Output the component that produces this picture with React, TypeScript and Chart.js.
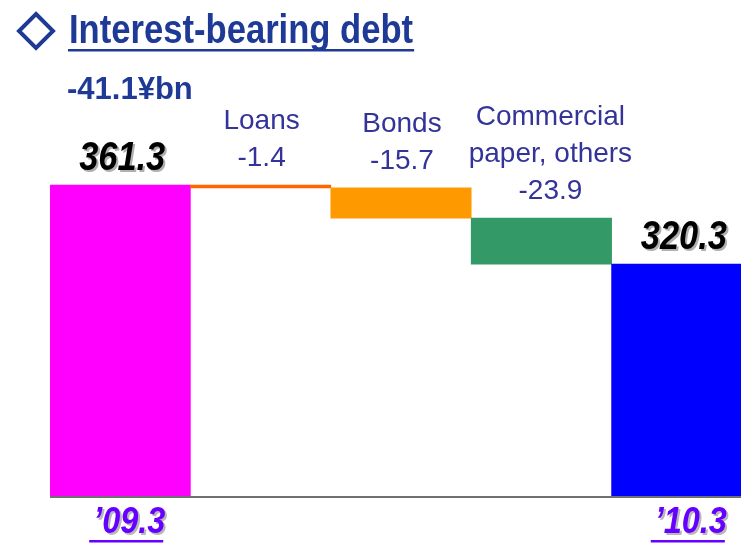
import React, { useEffect, useRef } from "react";
import { Chart, registerables } from "chart.js";

Chart.register(...registerables);

const titleText = "Interest-bearing debt";
const periodLabels = ["\u201909.3", "\u201910.3"];
const changeNames = [["Loans"], ["Bonds"], ["Commercial", "paper, others"]];
const startValue = 361.3;
const changeValues = [-1.4, -15.7, -23.9];
const endValue = 320.3;
const totalChangeLabel = "-41.1¥bn";
const barColors = ["#FF00FF", "#FF6600", "#FF9900", "#339966", "#0000FF"];
const axisMin = 200;
const axisMax = 457.4;

const SANS = '"Liberation Sans", Arial, sans-serif';

const CANVAS_W = 760;
const CANVAS_H = 543;

function narrowText(
  ctx: CanvasRenderingContext2D,
  text: string,
  x: number,
  y: number,
  align: "left" | "center",
  sx: number
) {
  ctx.save();
  ctx.translate(x, y);
  ctx.scale(sx, 1);
  ctx.textAlign = align;
  ctx.fillText(text, 0, 0);
  ctx.restore();
  return ctx.measureText(text).width * sx;
}

export default function App() {
  const ref = useRef<HTMLCanvasElement | null>(null);

  useEffect(() => {
    if (!ref.current) return;
    const categories = [periodLabels[0], ...changeNames.map((n) => n.join(" ")), periodLabels[1]];
    const floating: [number, number][] = [];
    floating.push([axisMin, startValue]);
    let run = startValue;
    changeValues.forEach((c) => {
      const next = Math.round((run + c) * 10) / 10;
      floating.push([Math.min(run, next), Math.max(run, next)]);
      run = next;
    });
    floating.push([axisMin, endValue]);

    const labelPlugin = {
      id: "labels",
      afterDatasetsDraw(chart: any) {
        const ctx = chart.ctx as CanvasRenderingContext2D;
        const area = chart.chartArea;
        const y = chart.scales.y;
        const meta = chart.getDatasetMeta(0);
        ctx.save();
        ctx.textBaseline = "alphabetic";

        // baseline
        const baseY = y.getPixelForValue(axisMin);
        ctx.strokeStyle = "#707070";
        ctx.lineWidth = 2;
        ctx.beginPath();
        ctx.moveTo(area.left, baseY + 1);
        ctx.lineTo(area.right, baseY + 1);
        ctx.stroke();

        // title diamond
        ctx.strokeStyle = "#1E3A96";
        ctx.lineWidth = 4;
        ctx.beginPath();
        ctx.moveTo(36, 14);
        ctx.lineTo(53, 31);
        ctx.lineTo(36, 48);
        ctx.lineTo(19, 31);
        ctx.closePath();
        ctx.stroke();

        // title
        ctx.fillStyle = "#1E3A96";
        ctx.font = `bold 40px ${SANS}`;
        const tw = narrowText(ctx, titleText, 69, 43, "left", 0.865);
        ctx.fillRect(68, 49, tw + 2, 2.5);

        // total change
        ctx.font = `bold 31px ${SANS}`;
        const firstTop = meta.data[0].y;
        narrowText(ctx, totalChangeLabel, 67, firstTop - 86, "left", 1);

        // period totals
        const totals = [startValue, endValue];
        [0, 4].forEach((idx, k) => {
          const bar = meta.data[idx];
          const cx = bar.x + 2;
          const ty = bar.y - 15;
          ctx.font = `italic bold 40px ${SANS}`;
          const txt = totals[k].toFixed(1);
          ctx.fillStyle = "#B0B0B0";
          narrowText(ctx, txt, cx + 2, ty + 2, "center", 0.86);
          ctx.fillStyle = "#000000";
          narrowText(ctx, txt, cx, ty, "center", 0.86);

          // period label under axis
          ctx.font = `italic bold 36px ${SANS}`;
          const p = periodLabels[k];
          const px = bar.x + 9;
          const py = baseY + 37;
          ctx.fillStyle = "#B8B8B8";
          narrowText(ctx, p, px + 2, py + 2, "center", 0.9);
          ctx.fillStyle = "#6600FF";
          const pw = narrowText(ctx, p, px, py, "center", 0.9);
          ctx.fillRect(px - pw / 2 - 4, py + 7, pw + 2, 2.5);
        });

        // change labels
        ctx.font = `28px ${SANS}`;
        ctx.fillStyle = "#333399";
        changeValues.forEach((v, i) => {
          const bar = meta.data[i + 1];
          const cx = bar.x + (i === 2 ? 9 : 1);
          const vy = bar.y - 19;
          narrowText(ctx, v.toFixed(1), cx, vy, "center", 1);
          const names = changeNames[i];
          names.forEach((n, j) => {
            narrowText(ctx, n, cx, vy - 37 * (names.length - j), "center", 1);
          });
        });

        ctx.restore();
      },
    };

    const chart = new Chart(ref.current, {
      type: "bar",
      data: {
        labels: categories,
        datasets: [
          {
            data: floating as any,
            backgroundColor: barColors,
            borderWidth: 0,
            borderSkipped: false,
            barPercentage: 1,
            categoryPercentage: 1,
          },
        ],
      },
      options: {
        responsive: false,
        animation: false,
        devicePixelRatio: 1,
        layout: { padding: { left: 50, right: CANVAS_W - 752, top: 0, bottom: CANVAS_H - 496 } },
        plugins: { legend: { display: false }, tooltip: { enabled: false }, title: { display: false } },
        scales: {
          x: { display: false, offset: true, grid: { display: false } },
          y: { display: false, min: axisMin, max: axisMax },
        },
      },
      plugins: [labelPlugin],
    });
    return () => chart.destroy();
  }, []);

  return (
    <div
      style={{
        position: "fixed",
        left: 0,
        top: 0,
        width: 741,
        height: 543,
        overflow: "hidden",
        background: "#fff",
      }}
    >
      <canvas ref={ref} width={CANVAS_W} height={CANVAS_H} style={{ display: "block" }} />
    </div>
  );
}
